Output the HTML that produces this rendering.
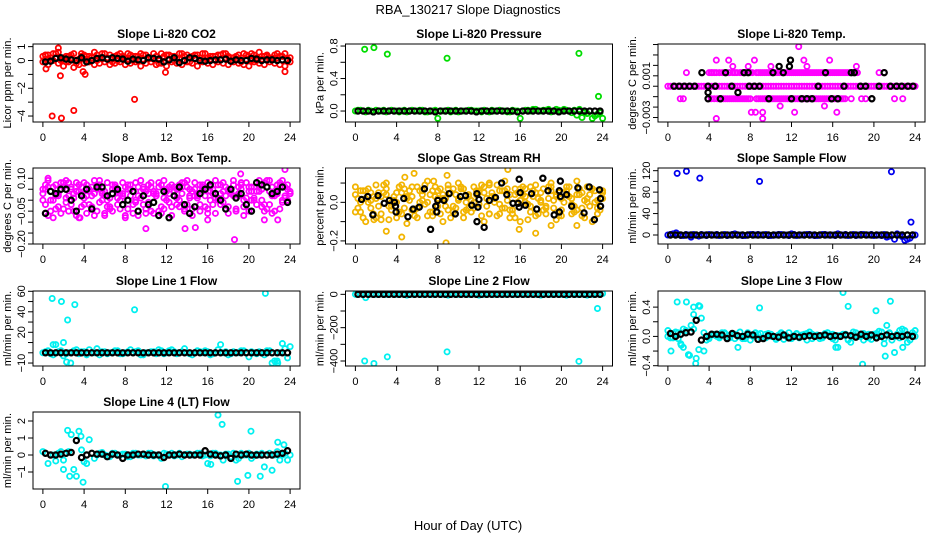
<!DOCTYPE html>
<html><head><meta charset="utf-8">
<style>
html,body{margin:0;padding:0;background:#fff;}
svg{display:block;font-family:"Liberation Sans",Arial,sans-serif;}
</style></head>
<body>
<svg id="chart" width="936" height="540" viewBox="0 0 936 540" xmlns="http://www.w3.org/2000/svg">
<text x="468" y="14" text-anchor="middle" font-size="13">RBA_130217  Slope Diagnostics</text>
<text x="468" y="530" text-anchor="middle" font-size="13">Hour of Day (UTC)</text>
</svg>
<script>
const hrsA=[0,0.5,1,1.5,2,2.5,3,3.5,4,4.5,5,5.5,6,6.5,7,7.5,8,8.5,9,9.5,10,10.5,11,11.5,12,12.5,13,13.5,14,14.5,15,15.5,16,16.5,17,17.5,18,18.5,19,19.5,20,20.5,21,21.5,22,22.5,23,23.5,24];
const hrsB=[0.25,0.75,1.25,1.75,2.25,2.75,3.25,3.75,4.25,4.75,5.25,5.75,6.25,6.75,7.25,7.75,8.25,8.75,9.25,9.75,10.25,10.75,11.25,11.75,12.25,12.75,13.25,13.75,14.25,14.75,15.25,15.75,16.25,16.75,17.25,17.75,18.25,18.75,19.25,19.75,20.25,20.75,21.25,21.75,22.25,22.75,23.25,23.75];
const zeros48=[0,0,0,0,0,0,0,0,0,0,0,0,0,0,0,0,0,0,0,0,0,0,0,0,0,0,0,0,0,0,0,0,0,0,0,0,0,0,0,0,0,0,0,0,0,0,0,0];
const zeros49=[0,0,0,0,0,0,0,0,0,0,0,0,0,0,0,0,0,0,0,0,0,0,0,0,0,0,0,0,0,0,0,0,0,0,0,0,0,0,0,0,0,0,0,0,0,0,0,0,0];
const xTicks=[0,4,8,12,16,20,24];

// P1 CO2
const co2A=[0.3,0.4,0.5,0.6,0.2,0.3,0.5,0.1,0.4,0.3,0.6,0.2,0.5,0.4,0.3,0.5,0.2,0.4,0.3,0.5,0.4,0.2,0.3,0.5,0.4,0.3,0.2,0.5,0.4,0.3,0.4,0.5,0.2,0.3,0.4,0.5,0.3,0.2,0.4,0.5,0.3,0.4,0.6,0.3,0.2,0.4,0.3,0.5,0.2];
const co2B=[0.1,0.0,0.2,0.1,-0.1,0.2,0.0,0.3,0.1,0.2,0.0,0.1,0.2,0.1,0.0,0.2,0.1,0.3,0.0,0.1,0.2,0.1,0.0,0.2,0.1,0.3,0.1,0.0,0.2,0.1,0.2,0.0,0.1,0.3,0.1,0.2,0.0,0.1,0.2,0.1,0.0,0.2,0.1,0.3,0.1,0.2,0.0,0.1];
const co2C=[-0.1,-0.3,0.0,-0.2,-0.4,-0.1,-0.5,-0.3,-0.2,-0.1,-0.3,-0.2,-0.1,-0.3,-0.2,-0.1,-0.3,-0.2,-0.1,-0.4,-0.2,-0.1,-0.3,-0.2,-0.4,-0.1,-0.2,-0.3,-0.1,-0.2,-0.4,-0.1,-0.2,-0.3,-0.1,-0.2,-0.3,-0.1,-0.2,-0.3,-0.4,-0.1,-0.2,-0.3,-0.1,-0.2,-0.3,-0.4,-0.1];
const co2D=[0.4,0.2,0.5,0.0,0.3,0.4,-0.2,0.5,0.3,0.0,0.4,0.5,0.2,-0.1,0.4,0.3,0.5,0.0,0.3,0.4,0.1,0.5,-0.2,0.3,0.4,0.0,0.5,0.3,-0.1,0.4,0.2,0.5,0.3,0.0,0.4,0.5,0.2,0.3,-0.1,0.4,0.5,0.0,0.3,0.4,0.2,0.5,0.3,0.0];
const co2OutX=[0.3,0.9,1.5,1.7,1.8,3.0,3.9,4.1,8.9,11.9,23.5];
const co2OutY=[-0.6,-4.0,0.9,-1.1,-4.15,-3.6,-0.8,-1.0,-2.8,-0.85,-0.8];
const co2Black=[-0.1,-0.05,0.15,0.2,0.1,0.05,0.0,0.2,-0.1,0.0,0.15,0.2,0.1,0.2,0.15,0.1,-0.05,0.1,0.05,0.0,0.2,0.15,0.1,-0.1,0.05,0.2,-0.15,0.0,0.2,0.15,0.0,-0.05,0.0,0.05,0.05,0.1,-0.05,0.05,0.0,0.0,0.15,0.1,0.0,0.05,0.05,0.0,0.05,0.0];

// P2 Pressure
const prA=[0.0,0.01,-0.01,0.0,0.01,0.0,-0.01,0.01,0.0,0.0,-0.01,0.01,0.0,0.01,-0.01,0.0,-0.09,0.0,0.01,0.0,-0.01,0.0,0.01,0.0,0.0,0.01,-0.01,0.0,0.01,0.0,-0.01,0.0,-0.09,0.01,0.0,0.02,0.0,0.01,-0.01,0.02,0.0,0.01,-0.02,-0.05,-0.08,-0.03,-0.09,-0.04,-0.09];
const prB=[0.01,0.0,0.01,-0.01,0.0,0.01,0.0,0.0,-0.01,0.01,0.0,0.0,0.01,-0.01,0.0,0.01,0.0,0.0,-0.01,0.01,0.0,0.0,0.01,0.0,-0.01,0.0,0.01,0.0,0.0,-0.01,0.01,0.0,0.0,0.01,0.02,0.0,0.01,0.02,0.0,0.01,0.02,0.0,0.01,0.02,-0.02,0.0,-0.06,-0.02];
const prOutX=[0.9,1.8,3.1,8.9,21.7,23.6];
const prOutY=[0.76,0.78,0.70,0.65,0.71,0.18];
const prBlack=[0,0,0,-0.01,0,0,0,0,0,0,0,0,0,0,0,-0.01,0,0,0,0,0,0,0,-0.01,0,0,0,0,0,0,0,-0.01,0,0,0,0,0,0,0,-0.01,0,0,0,0,0,0,0,0];

// P3 Li-820 Temp
const tmpMidX=[1.8,4.0,4.3,4.7,5.6,5.9,6.5,7.0,7.3,7.6,8.0,9.0,9.6,10.0,10.4,10.8,11.2,11.6,12.0,12.4,12.8,13.2,13.6,14.0,14.4,14.8,15.2,15.6,16.0,16.4,16.8,17.2,17.6,18.0,20.5,21.0];
const tmpMidY=[0.0013,0.0013,0.0013,0.0013,0.0013,0.0013,0.0013,0.0013,0.0013,0.0013,0.0013,0.0013,0.0013,0.0013,0.0013,0.0013,0.0013,0.0013,0.0013,0.0013,0.0013,0.0013,0.0013,0.0013,0.0013,0.0013,0.0013,0.0013,0.0013,0.0013,0.0013,0.0013,0.0013,0.0013,0.0013,0.0013];
const tmpMid2X=[4.2,4.5,5.0,5.3,6.0,6.3,6.7,7.1,8.2,8.6,8.8,9.2,9.4,9.8,10.2,10.6,11.0,11.4,11.8,12.2,12.6,13.0,13.4,13.8,14.2,14.6,15.0,15.4,15.8,16.2,16.6,17.0,17.4,17.8,18.2,18.4];
const tmpMid2Y=[0.0013,0.0013,0.0013,0.0013,0.0013,0.0013,0.0013,0.0013,0.0013,0.0013,0.0013,0.0013,0.0013,0.0013,0.0013,0.0013,0.0013,0.0013,0.0013,0.0013,0.0013,0.0013,0.0013,0.0013,0.0013,0.0013,0.0013,0.0013,0.0013,0.0013,0.0013,0.0013,0.0013,0.0013,0.0013,0.0013];
const tmpLowX=[1.2,1.5,3.9,4.5,5.0,5.4,5.8,6.2,6.6,7.0,7.4,7.8,8.6,9.0,9.4,9.8,10.2,10.6,11.0,11.4,11.8,12.2,12.6,13.0,13.4,13.8,14.2,14.6,15.0,15.4,15.8,16.2,16.6,17.0,17.8,18.8,19.2,19.8,22.0,22.8];
const tmpLowY=[-0.0012,-0.0012,-0.0012,-0.0012,-0.0012,-0.0012,-0.0012,-0.0012,-0.0012,-0.0012,-0.0012,-0.0012,-0.0012,-0.0012,-0.0012,-0.0012,-0.0012,-0.0012,-0.0012,-0.0012,-0.0012,-0.0012,-0.0012,-0.0012,-0.0012,-0.0012,-0.0012,-0.0012,-0.0012,-0.0012,-0.0012,-0.0012,-0.0012,-0.0012,-0.0012,-0.0012,-0.0012,-0.0012,-0.0012,-0.0012];
const tmpLow2X=[4.2,4.8,5.2,5.6,6.0,6.4,6.8,7.2,7.6,8.0,8.8,9.2,9.6,10.0,10.4,10.8,11.2,11.6,12.0,12.4,12.8,13.2,13.6,14.0,14.4,14.8,15.2,15.6,16.0,16.4,16.8,17.2];
const tmpLow2Y=[-0.0012,-0.0012,-0.0012,-0.0012,-0.0012,-0.0012,-0.0012,-0.0012,-0.0012,-0.0012,-0.0012,-0.0012,-0.0012,-0.0012,-0.0012,-0.0012,-0.0012,-0.0012,-0.0012,-0.0012,-0.0012,-0.0012,-0.0012,-0.0012,-0.0012,-0.0012,-0.0012,-0.0012,-0.0012,-0.0012,-0.0012,-0.0012];
const tmpOutX=[4.7,5.9,6.3,7.8,8.4,10.0,12.7,13.2,13.5,15.7,18.3,10.9,15.2,8.1,8.5,9.2,12.3,16.4,4.7,9.2];
const tmpOutY=[0.0025,0.0025,0.0019,0.0019,0.0025,0.0019,0.0038,0.0025,0.0019,0.0025,0.0019,-0.0019,-0.0019,-0.0025,-0.0025,-0.0025,-0.0025,-0.0025,-0.0031,-0.0031];
const tmpBlackX=[0.6,1.1,1.6,2.1,2.6,3.3,3.9,3.9,3.9,4.6,5.1,5.6,6.2,6.8,7.4,7.8,7.9,8.4,8.9,9.8,10.2,10.8,11.2,11.8,11.9,12.0,13.0,13.5,14.0,14.6,15.3,15.9,16.5,17.1,17.8,18.1,18.7,19.2,19.8,20.5,21.0,21.6,22.2,22.7,23.3,23.8];
const tmpBlackY=[0,0,0,0,0,0.0013,0,-0.0006,-0.0012,0,-0.0012,0.0013,0,-0.0006,0.0013,0.0013,0,0,0,-0.0012,0.0013,0.0019,0.0013,0.0019,0.0025,-0.0012,-0.0012,-0.0012,-0.0012,0,0.0013,-0.0012,-0.0012,0,0.0013,0.0013,0,0,-0.0012,0,0.0013,0,0,0,0,0];

// P4 Amb Box Temp
const ambA=[0.05,0.09,0.0,-0.03,0.06,0.02,-0.05,0.04,0.08,-0.02,0.03,0.07,-0.06,0.01,0.05,-0.04,0.06,0.02,-0.01,0.09,0.04,-0.05,0.03,0.07,0.0,-0.03,0.05,0.08,-0.02,0.04,0.01,0.06,-0.04,0.03,0.07,-0.01,0.05,0.09,0.02,-0.03,0.06,0.0,0.04,0.08,-0.02,0.03,0.06,0.01,0.04];
const ambB=[-0.02,0.04,0.07,-0.06,0.01,0.05,0.08,-0.03,0.02,0.06,-0.05,0.04,0.0,0.07,-0.02,0.03,0.05,-0.06,0.02,0.06,-0.01,0.04,0.08,-0.04,0.03,0.06,0.0,-0.05,0.05,0.02,0.07,-0.03,0.04,0.01,-0.02,0.06,0.03,-0.04,0.05,0.08,0.0,0.04,-0.03,0.06,0.02,0.07,-0.01,0.05];
const ambC=[0.03,-0.07,0.06,0.02,-0.04,0.08,0.03,-0.08,0.01,0.05,0.09,-0.01,0.04,-0.03,0.07,0.0,-0.07,0.05,0.08,0.01,-0.04,0.06,0.02,-0.06,0.04,0.07,-0.02,0.03,0.06,-0.07,0.02,0.05,0.08,-0.02,0.01,0.04,-0.06,0.07,0.03,0.0,-0.05,0.06,0.09,-0.02,0.04,-0.05,0.08,0.02,0.03];
const ambD=[0.07,0.0,-0.04,0.05,0.09,-0.02,0.04,0.06,-0.06,0.02,0.07,0.03,-0.03,0.05,0.01,0.08,-0.04,0.04,0.06,-0.02,0.07,0.03,-0.05,0.01,0.06,0.04,-0.03,0.08,0.01,0.05,-0.05,0.02,0.06,0.09,0.03,-0.04,0.05,0.01,0.07,-0.02,0.04,0.08,0.0,-0.04,0.06,0.03,0.09,0.0];
const ambE=[0.0,0.06,-0.08,0.03,0.08,-0.05,0.01,0.07,-0.02,0.04,-0.07,0.09,0.02,-0.04,0.06,0.03,-0.08,0.07,0.0,0.04,-0.06,0.08,0.02,-0.03,0.05,-0.07,0.01,0.06,0.09,-0.04,0.03,0.07,-0.06,0.05,0.0,0.08,-0.03,0.02,0.06,-0.07,0.04,0.01,0.07,-0.05,0.09,0.02,-0.04,0.06,0.03];
const ambF=[0.05,-0.05,0.02,0.08,-0.01,0.06,-0.07,0.03,0.07,-0.03,0.05,0.0,0.08,-0.05,0.04,0.02,0.07,-0.02,-0.07,0.05,0.03,-0.06,0.06,0.09,-0.01,0.04,0.07,-0.04,0.02,0.08,-0.02,0.05,0.0,-0.06,0.07,0.02,0.04,-0.05,0.08,0.01,0.06,-0.02,0.05,0.09,-0.06,0.03,0.0,0.07];
const ambOutX=[10.0,13.8,14.8,18.6,19.2,23.5,21.5,22.8,16.0,0.5,3.6,6.0];
const ambOutY=[-0.13,-0.13,-0.125,-0.18,0.12,0.14,-0.09,-0.09,-0.09,0.1,-0.08,-0.07];
const ambBlack=[-0.06,0.04,0.03,0.05,0.05,0.0,-0.05,0.02,0.05,-0.04,0.06,0.06,0.02,0.03,0.05,-0.02,0.0,0.04,-0.05,0.02,-0.02,-0.01,-0.07,0.04,-0.08,0.02,0.06,-0.02,-0.06,-0.03,0.03,0.05,0.07,0.03,0.0,-0.04,0.05,0.01,0.03,-0.02,-0.05,0.08,0.07,0.06,0.03,0.04,0.06,-0.01];

// P5 Gas Stream RH
const rhA=[0.04,-0.05,0.06,0.01,-0.08,0.03,0.07,-0.02,0.05,-0.06,0.02,0.08,-0.03,0.04,0.0,-0.07,0.06,0.02,-0.04,0.07,0.01,-0.05,0.03,0.08,-0.01,0.05,-0.06,0.02,0.06,-0.03,0.04,-0.08,0.01,0.07,-0.02,0.05,0.0,-0.06,0.08,0.03,-0.04,0.06,-0.01,0.04,-0.07,0.02,0.07,-0.03,0.05];
const rhB=[-0.03,0.06,0.0,-0.06,0.05,0.09,-0.02,0.03,-0.05,0.07,0.01,-0.04,0.06,-0.01,0.04,0.08,-0.06,0.02,0.05,-0.03,0.07,0.0,-0.05,0.04,0.09,-0.02,0.03,-0.07,0.06,0.01,-0.04,0.05,0.08,-0.01,0.03,-0.06,0.07,0.02,-0.03,0.05,0.0,0.08,-0.05,0.04,0.01,-0.02,0.06,-0.04];
const rhC=[0.08,0.0,-0.1,0.05,0.02,-0.09,0.1,-0.04,0.0,0.09,-0.11,0.03,-0.08,0.06,0.11,-0.05,0.02,-0.1,0.07,-0.02,0.1,-0.08,0.04,-0.03,0.06,-0.1,0.09,0.0,-0.06,0.11,-0.04,0.07,-0.1,0.03,0.08,-0.07,0.05,-0.02,0.1,-0.09,0.02,0.06,-0.06,0.11,-0.03,0.08,-0.1,0.01,0.06];
const rhD=[0.02,-0.08,0.07,0.03,-0.02,0.05,-0.09,0.01,0.08,-0.03,0.06,-0.07,0.0,0.09,-0.05,0.03,0.07,-0.02,-0.08,0.04,0.08,-0.04,0.01,0.06,-0.07,0.02,0.05,0.09,-0.03,0.07,-0.06,0.0,0.04,-0.09,0.06,0.02,-0.04,0.08,0.01,-0.07,0.05,0.03,-0.02,0.07,-0.08,0.04,0.0,0.06];
const rhE=[-0.05,0.06,0.02,-0.03,0.09,-0.06,0.04,0.0,-0.08,0.05,0.03,-0.04,0.08,0.01,-0.07,0.06,-0.02,0.04,0.09,-0.05,0.02,0.07,-0.03,0.0,0.05,0.08,-0.06,0.03,-0.01,0.06,-0.08,0.04,0.07,0.0,-0.05,0.09,0.01,-0.03,0.06,0.04,-0.07,0.08,0.02,-0.04,0.05,0.0,0.07,-0.06,0.02];
const rhOutX=[1.8,3.0,4.5,4.8,5.7,8.8,8.9,14.8,17.5,15.9,19.0,21.5,7.6,13.0];
const rhOutY=[-0.09,-0.15,-0.18,0.13,0.15,-0.21,0.14,0.17,-0.16,-0.14,-0.12,-0.12,0.11,0.10];
const rhBlackX=[0.6,1.2,1.7,2.2,2.8,3.3,3.8,3.9,3.95,4.7,5.1,5.6,6.2,6.7,7.3,7.8,7.9,8.0,8.6,9.1,9.7,10.2,10.7,11.3,11.8,11.8,11.9,12.0,12.5,13.0,13.6,14.2,14.7,15.3,15.8,15.9,15.9,16.0,16.5,17.1,17.6,18.2,18.7,19.3,19.8,19.9,19.8,19.9,20.5,21.0,21.6,22.2,22.7,23.2,23.7,23.8,23.8];
const rhBlackY=[0.015,0.03,-0.065,0.035,-0.005,0.01,0.0,-0.02,-0.05,0.02,-0.075,-0.035,-0.025,0.07,-0.14,-0.02,-0.05,0.01,0.01,0.045,-0.06,0.03,0.035,-0.015,0.045,-0.1,-0.025,0.015,-0.13,0.01,0.025,0.1,0.04,-0.005,-0.005,-0.025,0.12,0.05,-0.015,0.045,-0.035,0.125,0.06,-0.065,0.06,0.03,-0.05,0.11,0.04,-0.02,0.075,-0.055,0.08,-0.09,0.065,0.02,-0.02];

// P6 Sample Flow
const sfA=[0,2,1,-1,0,1,-2,0,1,0,-1,1,0,2,0,-1,1,0,0,1,-1,0,1,0,2,-1,0,1,0,-1,1,0,0,2,0,-1,1,0,1,0,-1,0,1,-2,-8,0,-10,-6,0];
const sfB=[1,0,-1,1,-4,0,1,-1,0,1,0,-1,1,0,-1,0,1,1,0,-1,0,1,0,-1,1,0,0,1,-1,0,1,0,-1,0,1,0,-1,1,0,1,0,-1,-4,0,2,-3,-8,0];
const sfOutX=[0.9,1.8,3.1,8.9,21.7,23.6,0.8];
const sfOutY=[115,119,106,100,118,24,4];

// P7 Line 1 Flow
const l1A=[0,2,-2,1,-3,0,2,-1,1,3,0,-2,1,0,2,-1,0,3,1,-2,0,1,-1,2,0,3,-1,1,0,-2,2,0,1,-1,3,0,-2,1,0,2,-4,0,1,-2,2,-8,0,4,6];
const l1B=[1,-1,8,2,-1,0,3,1,-2,0,4,1,-1,0,2,-1,1,0,2,-2,0,1,3,-1,2,1,0,4,-1,0,1,2,-2,0,8,1,-1,0,2,0,1,-1,0,2,-10,-8,9,-5];
const l1OutX=[0.9,1.8,2.0,2.4,2.3,2.7,3.1,8.9,21.6,22.8,1.0];
const l1OutY=[53,50,10,32,-9,-10,47,42,58,-10,8];

// P8 Line 2 Flow
const l2A=[0,2,-20,1,0,3,0,2,0,1,-5,0,2,0,1,0,3,0,-5,1,0,2,0,1,-5,0,2,0,1,0,3,0,2,0,1,0,-5,2,0,1,0,-5,2,0,1,-5,0,2,5];
const l2OutX=[0.9,1.8,3.1,8.9,21.7,23.5];
const l2OutY=[-400,-415,-375,-345,-402,-85];

// P9 Line 3 Flow
const l3A=[0.08,-0.02,0.05,-0.15,-0.25,0.3,0.42,-0.2,0.0,0.03,-0.02,0.05,0.02,-0.03,0.06,0.0,-0.05,0.02,0.04,-0.02,0.03,-0.04,0.05,0.0,-0.03,0.04,0.02,-0.05,0.03,0.0,-0.02,0.05,0.03,-0.15,0.02,-0.04,0.06,0.0,-0.05,0.03,0.01,0.07,-0.03,0.05,0.0,0.08,0.02,-0.05,0.08];
const l3B=[-0.02,0.06,-0.1,0.08,0.15,-0.3,0.25,-0.05,0.03,0.0,0.05,-0.02,0.04,0.01,-0.03,0.05,0.0,0.03,-0.02,0.04,0.0,0.02,-0.04,0.05,0.01,-0.02,0.03,0.06,0.0,-0.03,0.04,0.02,-0.05,0.01,0.03,-0.08,0.05,0.0,0.02,-0.04,0.04,0.06,0.15,-0.05,0.03,0.1,-0.08,0.05];
const l3C=[0.0,0.04,-0.03,0.1,-0.25,0.1,-0.18,0.05,-0.03,0.02,0.0,0.04,-0.02,0.03,0.0,-0.03,0.02,0.05,-0.02,0.03,0.0,-0.03,0.04,0.01,-0.02,0.03,0.0,0.04,-0.03,0.02,0.0,0.05,-0.03,0.01,0.03,-0.05,0.02,0.0,0.04,-0.02,0.03,0.0,-0.1,0.04,0.0,-0.02,0.08,0.02,0.0];
const l3OutX=[0.3,0.9,1.8,2.1,2.7,3.1,8.9,6.8,16.3,17.0,17.5,18.9,20.2,21.1,21.6,22.0,22.8,1.3,2.5];
const l3OutY=[-0.2,0.47,0.47,-0.26,-0.37,0.41,0.39,-0.15,-0.15,0.6,0.41,-0.38,0.35,-0.27,0.48,-0.22,-0.15,-0.12,0.4];
const l3Black=[0.04,0.0,0.03,0.05,0.06,0.22,-0.05,0.0,0.03,0.03,0.02,-0.03,0.04,0.01,0.0,0.03,0.02,-0.04,-0.03,0.01,0.0,-0.01,0.02,-0.02,0.0,-0.01,0.0,0.01,0.0,0.01,0.02,0.0,0.01,0.0,0.02,0.01,-0.01,0.03,0.0,0.02,-0.02,0.0,0.02,0.0,0.01,0.0,0.02,0.0];

// P10 Line 4 (LT) Flow
const l4A=[0.2,-0.5,0.0,0.1,-0.3,0.2,-0.85,1.4,-0.4,0.9,-0.2,0.1,0.0,-0.1,0.1,0.0,0.05,-0.1,0.1,0.0,-0.05,0.1,0.0,-0.2,0.05,0.1,0.0,-0.1,0.05,0.0,0.1,-0.05,-0.5,0.1,0.0,-0.3,0.05,0.1,-0.2,0.0,0.1,-0.05,0.0,-0.7,0.1,0.0,-0.3,0.1,0.0];
const l4B=[0.1,0.0,-0.35,0.2,0.1,1.2,-1.25,0.3,-0.5,0.1,0.0,0.15,-0.05,0.1,0.0,0.05,-0.1,0.1,0.0,0.05,0.1,-0.05,0.0,0.1,0.0,-0.05,0.1,0.0,0.05,0.0,0.1,0.0,-0.05,0.1,0.0,0.05,-0.1,-0.3,0.1,0.0,-0.2,0.05,0.1,0.0,-0.9,0.2,0.0,-0.3];
const l4OutX=[2.0,2.6,3.9,11.9,16.3,17.0,17.4,18.9,19.9,20.2,21.1,22.8,23.4,3.7,2.4];
const l4OutY=[-0.85,-1.25,-1.6,-1.85,-0.55,2.35,1.8,-1.55,-1.2,1.4,-1.25,0.75,0.6,1.1,1.45];
const l4Black=[0.1,0.0,0.0,0.05,0.1,0.15,0.85,-0.15,0.0,0.1,0.05,0.05,-0.1,0.05,0.0,-0.2,0.0,0.0,0.05,0.05,0.0,0.0,0.0,-0.15,0.0,0.0,0.05,0.0,0.0,0.0,0.0,0.25,0.05,0.0,-0.05,0.0,-0.2,0.05,0.0,0.05,0.0,0.0,0.0,0.0,0.0,0.05,0.1,0.25];

const NS='http://www.w3.org/2000/svg';
const svg=document.getElementById('chart');
const colLeft=[33,345.5,658], boxW=267;
const rowTop=[44,168,291,412], rowBot=[122,244,366,489];
const XMIN=-0.96, XMAX=24.96;

function mk(tag,attrs,parent){const e=document.createElementNS(NS,tag);for(const k in attrs)e.setAttribute(k,attrs[k]);(parent||svg).appendChild(e);return e;}

function panel(p){
  const L=colLeft[p.col],T=rowTop[p.row],B=rowBot[p.row],R=L+boxW;
  const g=mk('g',{});
  
  
  const sx=h=>L+(h-XMIN)/(XMAX-XMIN)*boxW;
  const sy=v=>B-(v-p.ymin)/(p.ymax-p.ymin)*(B-T);
  const title=mk('text',{x:(L+R)/2,y:T-6,'text-anchor':'middle','font-size':'12','font-weight':'bold'},g);
  
  
  title.textContent=p.title;
  const yt=mk('text',{transform:`translate(${L-22},${(T+B)/2}) rotate(-90)`,'text-anchor':'middle','font-size':'11'},g);
  
  
  yt.textContent=p.ylab;
  const xa=mk('g',{},g);
  
  
  mk('line',{x1:sx(xTicks[0]),x2:sx(xTicks[xTicks.length-1]),y1:B,y2:B,stroke:'#000'},xa);
  xTicks.forEach(t=>{
    mk('line',{x1:sx(t),x2:sx(t),y1:B,y2:B+5,stroke:'#000'},xa);
    const tl=mk('text',{x:sx(t),y:B+19,'text-anchor':'middle','font-size':'11'},xa);
    
    
    tl.textContent=t;
  });
  const ya=mk('g',{},g);
  
  
  p.yticks.forEach(t=>mk('line',{x1:L-5,x2:L,y1:sy(t),y2:sy(t),stroke:'#000'},ya));
  p.ylabels.forEach((t,i)=>{
    const tl=mk('text',{transform:`translate(${L-8},${sy(p.ylabelVals[i])}) rotate(-90)`,'text-anchor':'middle','font-size':'11'},ya);
    
    
    tl.textContent=t;
  });
  const clipId='c'+p.col+p.row;
  const cp=mk('clipPath',{id:clipId},g);
  mk('rect',{x:L,y:T,width:boxW,height:B-T},cp);
  const pts=mk('g',{'clip-path':`url(#${clipId})`},g);
  p.series.forEach(s=>{
    const sg=mk('g',{fill:'none',stroke:s.color,'stroke-width':s.sw||1.8},pts);
    
    
    s.y.forEach((v,i)=>{
      if(s.x[i]===undefined) return;
      const c=mk('circle',{cx:sx(s.x[i]),cy:sy(v),r:2.6},sg);
      
      
    });
  });
  const box=mk('rect',{x:L,y:T,width:boxW,height:B-T,fill:'none',stroke:'#000','stroke-width':1},g);
  
  
}

const RED='#ff0000',GRN='#00dd00',MAG='#ff00ff',ORG='#f2b400',BLU='#0000ee',CYN='#00f0f0',BLK='#000';
panel({name:'panel-co2',col:0,row:0,title:'Slope Li-820 CO2',ylab:'Licor ppm per min.',ymin:-4.43,ymax:1.19,
  yticks:[1,0,-1,-2,-3,-4],ylabels:['1','0','\u22122','\u22124'],ylabelVals:[1,0,-2,-4],
  series:[{name:'co2-series-a',x:hrsA,y:co2A,color:RED},{name:'co2-series-b',x:hrsB,y:co2B,color:RED},{name:'co2-series-c',x:hrsA,y:co2C,color:RED},{name:'co2-series-d',x:hrsB,y:co2D,color:RED},{name:'co2-outliers',x:co2OutX,y:co2OutY,color:RED},{name:'co2-hourly',x:hrsB,y:co2Black,color:BLK,sw:2.2}]});
panel({name:'panel-pressure',col:1,row:0,title:'Slope Li-820 Pressure',ylab:'kPa per min.',ymin:-0.135,ymax:0.825,
  yticks:[0,0.2,0.4,0.6,0.8],ylabels:['0.0','0.4','0.8'],ylabelVals:[0,0.4,0.8],
  series:[{name:'pressure-series-a',x:hrsA,y:prA,color:GRN},{name:'pressure-series-b',x:hrsB,y:prB,color:GRN},{name:'pressure-outliers',x:prOutX,y:prOutY,color:GRN},{name:'pressure-hourly',x:hrsB,y:prBlack,color:BLK,sw:2.2}]});
panel({name:'panel-licor-temp',col:2,row:0,title:'Slope Li-820 Temp.',ylab:'degrees C per min.',ymin:-0.00343,ymax:0.00405,
  yticks:[0.004,0.003,0.002,0.001,0,-0.001,-0.002,-0.003],ylabels:['0.001','\u22120.003'],ylabelVals:[0.001,-0.003],
  series:[{name:'temp-series-a',x:hrsA,y:zeros49,color:MAG},{name:'temp-series-b',x:hrsB,y:zeros48,color:MAG},{name:'temp-upper-level',x:tmpMidX,y:tmpMidY,color:MAG},{name:'temp-upper-level-2',x:tmpMid2X,y:tmpMid2Y,color:MAG},{name:'temp-lower-level',x:tmpLowX,y:tmpLowY,color:MAG},{name:'temp-lower-level-2',x:tmpLow2X,y:tmpLow2Y,color:MAG},{name:'temp-outliers',x:tmpOutX,y:tmpOutY,color:MAG},{name:'temp-hourly',x:tmpBlackX,y:tmpBlackY,color:BLK,sw:2.2}]});
panel({name:'panel-amb-box-temp',col:0,row:1,title:'Slope Amb. Box Temp.',ylab:'degrees C per min.',ymin:-0.2,ymax:0.147,
  yticks:[0.1,0.05,0,-0.05,-0.1,-0.15,-0.2],ylabels:['0.10','\u22120.05','\u22120.20'],ylabelVals:[0.1,-0.05,-0.2],
  series:[{name:'amb-series-a',x:hrsA,y:ambA,color:MAG},{name:'amb-series-b',x:hrsB,y:ambB,color:MAG},{name:'amb-series-c',x:hrsA,y:ambC,color:MAG},{name:'amb-series-d',x:hrsB,y:ambD,color:MAG},{name:'amb-series-e',x:hrsA,y:ambE,color:MAG},{name:'amb-series-f',x:hrsB,y:ambF,color:MAG},{name:'amb-outliers',x:ambOutX,y:ambOutY,color:MAG},{name:'amb-hourly',x:hrsB,y:ambBlack,color:BLK,sw:2.2}]});
panel({name:'panel-gas-stream-rh',col:1,row:1,title:'Slope Gas Stream RH',ylab:'percent per min.',ymin:-0.216,ymax:0.178,
  yticks:[0.1,0,-0.1,-0.2],ylabels:['0.0','\u22120.2'],ylabelVals:[0,-0.2],
  series:[{name:'rh-series-a',x:hrsA,y:rhA,color:ORG},{name:'rh-series-b',x:hrsB,y:rhB,color:ORG},{name:'rh-series-c',x:hrsA,y:rhC,color:ORG},{name:'rh-series-d',x:hrsB,y:rhD,color:ORG},{name:'rh-series-e',x:hrsA,y:rhE,color:ORG},{name:'rh-outliers',x:rhOutX,y:rhOutY,color:ORG},{name:'rh-hourly',x:rhBlackX,y:rhBlackY,color:BLK,sw:2.2}]});
panel({name:'panel-sample-flow',col:2,row:1,title:'Slope Sample Flow',ylab:'ml/min per min.',ymin:-16.8,ymax:125,
  yticks:[0,20,40,60,80,100,120],ylabels:['0','40','80','120'],ylabelVals:[0,40,80,120],
  series:[{name:'sample-series-a',x:hrsA,y:sfA,color:BLU},{name:'sample-series-b',x:hrsB,y:sfB,color:BLU},{name:'sample-outliers',x:sfOutX,y:sfOutY,color:BLU},{name:'sample-hourly',x:hrsB,y:zeros48,color:BLK,sw:2.2}]});
panel({name:'panel-line1-flow',col:0,row:2,title:'Slope Line 1 Flow',ylab:'ml/min per min.',ymin:-12.9,ymax:60.3,
  yticks:[60,50,40,30,20,10,0,-10],ylabels:['60','40','20','\u221210'],ylabelVals:[60,40,20,-10],
  series:[{name:'line1-series-a',x:hrsA,y:l1A,color:CYN},{name:'line1-series-b',x:hrsB,y:l1B,color:CYN},{name:'line1-outliers',x:l1OutX,y:l1OutY,color:CYN},{name:'line1-hourly',x:hrsB,y:zeros48,color:BLK,sw:2.2}]});
panel({name:'panel-line2-flow',col:1,row:2,title:'Slope Line 2 Flow',ylab:'ml/min per min.',ymin:-430,ymax:20,
  yticks:[0,-100,-200,-300,-400],ylabels:['0','\u2212200','\u2212400'],ylabelVals:[0,-200,-400],
  series:[{name:'line2-series-a',x:hrsA,y:l2A,color:CYN},{name:'line2-outliers',x:l2OutX,y:l2OutY,color:CYN},{name:'line2-hourly',x:hrsB,y:zeros48,color:BLK,sw:2.2}]});
panel({name:'panel-line3-flow',col:2,row:2,title:'Slope Line 3 Flow',ylab:'ml/min per min.',ymin:-0.404,ymax:0.62,
  yticks:[0.4,0.2,0,-0.2,-0.4],ylabels:['0.4','0.0','\u22120.4'],ylabelVals:[0.4,0,-0.4],
  series:[{name:'line3-series-a',x:hrsA,y:l3A,color:CYN},{name:'line3-series-b',x:hrsB,y:l3B,color:CYN},{name:'line3-series-c',x:hrsA,y:l3C,color:CYN},{name:'line3-outliers',x:l3OutX,y:l3OutY,color:CYN},{name:'line3-hourly',x:hrsB,y:l3Black,color:BLK,sw:2.2}]});
panel({name:'panel-line4-flow',col:0,row:3,title:'Slope Line 4 (LT) Flow',ylab:'ml/min per min.',ymin:-2.0,ymax:2.53,
  yticks:[2,1,0,-1],ylabels:['2','1','0','\u22121'],ylabelVals:[2,1,0,-1],
  series:[{name:'line4-series-a',x:hrsA,y:l4A,color:CYN},{name:'line4-series-b',x:hrsB,y:l4B,color:CYN},{name:'line4-outliers',x:l4OutX,y:l4OutY,color:CYN},{name:'line4-hourly',x:hrsB,y:l4Black,color:BLK,sw:2.2}]});
</script>
</body></html>
